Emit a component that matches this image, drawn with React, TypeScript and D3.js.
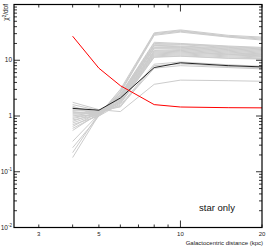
import { useEffect, useRef } from "react";
import * as d3 from "d3";

// radial bins (kpc)
const distances = [4, 5, 6, 8, 10, 15, 20];

// red curve and black reference curve
const redValues = [27, 7.2, 3.5, 1.6, 1.45, 1.41, 1.4];
const blackValues = [1.37, 1.27, 2.1, 7.4, 9.0, 8.0, 7.6];

// grey curves (one row per model)
const greyValues = [
  [0.18, 1.05, 3.0, 31, 35, 28, 26],
  [0.22, 1.1, 2.8, 30, 34, 27, 25],
  [0.27, 1.0, 2.7, 29, 33, 26.5, 24],
  [0.35, 1.08, 2.6, 28, 32, 26, 23],
  [0.55, 1.12, 2.45, 21, 20, 18, 17],
  [0.6, 1.05, 2.4, 20, 19.5, 17.5, 16.5],
  [0.65, 1.15, 2.35, 19, 19, 17, 16],
  [0.7, 1.0, 2.3, 18.5, 18, 16.5, 15.5],
  [0.75, 1.1, 2.25, 18, 17.5, 16, 15],
  [0.8, 1.2, 2.2, 17, 17, 15.5, 14.5],
  [0.85, 1.05, 2.15, 16.5, 16.5, 15, 14],
  [0.9, 1.15, 2.1, 16, 16, 14.5, 13.5],
  [0.95, 1.1, 2.05, 15, 15.5, 14, 13],
  [1.0, 1.2, 2.0, 14.5, 15, 13.5, 12.8],
  [1.05, 1.0, 1.95, 14, 14.5, 13, 12.5],
  [1.1, 1.1, 1.9, 13.5, 14, 12.8, 12],
  [1.15, 1.15, 1.85, 13, 13.5, 12.5, 11.8],
  [1.2, 1.05, 1.8, 12.5, 13, 12, 11.5],
  [1.3, 1.2, 1.75, 12, 12.5, 11.5, 11],
  [1.4, 1.1, 1.7, 11.5, 12, 11, 10.7],
  [1.5, 1.0, 1.65, 11.3, 11.8, 10.8, 10.5],
  [1.25, 1.2, 1.55, 8.5, 9.3, 8.3, 7.8],
  [1.45, 1.15, 1.5, 7.2, 8.0, 7.4, 7.0],
  [1.6, 1.25, 1.45, 8.0, 8.6, 7.7, 7.3],
  [1.76, 1.3, 1.2, 3.7, 4.4, 4.3, 4.2],
];

// axis ticks
const xTicks = [3, 4, 5, 6, 7, 8, 9, 10, 20];
const xLabels = [3, 5, 10, 20];
const yDecades = [0.01, 0.1, 1, 10, 100];
const yLabels = [
  { v: 0.01, base: "10", exp: "-2" },
  { v: 0.1, base: "10", exp: "-1" },
  { v: 1, base: "1", exp: "" },
  { v: 10, base: "10", exp: "" },
];

export default function App() {
  const svgRef = useRef<SVGSVGElement>(null);

  useEffect(() => {
    const width = 266;
    const height = 249;
    const left = 14;
    const right = 262;
    const top = 4.5;
    const bottom = 227.5;
    const font = "'Liberation Sans Narrow', 'Liberation Sans', Arial, sans-serif";

    const svg = d3.select(svgRef.current);
    svg.selectAll("*").remove();
    svg.attr("width", width).attr("height", height);

    const x = d3.scaleLog().domain([2.43, 20]).range([left, right]);
    const y = d3.scaleLog().domain([0.01, 100]).range([bottom, top]);

    svg
      .append("rect")
      .attr("width", width)
      .attr("height", height)
      .attr("fill", "white");

    const line = d3
      .line<number>()
      .x((_, i) => x(distances[i]))
      .y((d) => y(d));

    const plot = svg.append("g");

    plot
      .selectAll(".grey")
      .data(greyValues)
      .join("path")
      .attr("class", "grey")
      .attr("d", line)
      .attr("fill", "none")
      .attr("stroke", "#cccccc")
      .attr("stroke-width", 1);

    plot
      .append("path")
      .attr("d", line(blackValues))
      .attr("fill", "none")
      .attr("stroke", "#222")
      .attr("stroke-width", 1);

    plot
      .append("path")
      .attr("d", line(redValues))
      .attr("fill", "none")
      .attr("stroke", "#ff0000")
      .attr("stroke-width", 1);

    // frame
    svg
      .append("rect")
      .attr("x", left)
      .attr("y", top)
      .attr("width", right - left)
      .attr("height", bottom - top)
      .attr("fill", "none")
      .attr("stroke", "black")
      .attr("stroke-width", 1.2);

    // x ticks, bottom and top
    const xt = svg.append("g").attr("stroke", "black").attr("stroke-width", 0.8);
    xTicks.forEach((t) => {
      const len = t === 10 ? 7 : 3;
      xt.append("line")
        .attr("x1", x(t))
        .attr("x2", x(t))
        .attr("y1", bottom)
        .attr("y2", bottom - len);
      xt.append("line")
        .attr("x1", x(t))
        .attr("x2", x(t))
        .attr("y1", top)
        .attr("y2", top + len);
    });

    // y ticks, left and right
    const yt = svg.append("g").attr("stroke", "black").attr("stroke-width", 0.8);
    yDecades.forEach((dec) => {
      d3.range(1, 10).forEach((m) => {
        const v = dec * m;
        if (v > 100) return;
        const len = m === 1 ? 6 : 3;
        yt.append("line")
          .attr("x1", left)
          .attr("x2", left + len)
          .attr("y1", y(v))
          .attr("y2", y(v));
        yt.append("line")
          .attr("x1", right)
          .attr("x2", right - len)
          .attr("y1", y(v))
          .attr("y2", y(v));
      });
    });

    // tick labels
    svg
      .append("g")
      .selectAll("text")
      .data(xLabels)
      .join("text")
      .attr("x", (d) => x(d))
      .attr("y", 235.5)
      .attr("text-anchor", "middle")
      .attr("font-family", font)
      .attr("font-size", 6)
      .attr("fill", "#222")
      .text((d) => d);

    const yl = svg
      .append("g")
      .selectAll("text")
      .data(yLabels)
      .join("text")
      .attr("x", 12)
      .attr("y", (d) => y(d.v) + 2.2)
      .attr("text-anchor", "end")
      .attr("font-family", font)
      .attr("font-size", 6.5)
      .attr("fill", "#222");
    yl.append("tspan").text((d) => d.base);
    yl.append("tspan")
      .attr("dy", -3)
      .attr("font-size", 4.5)
      .text((d) => d.exp);

    // axis titles
    svg
      .append("text")
      .attr("x", right + 1)
      .attr("y", 244.5)
      .attr("text-anchor", "end")
      .attr("font-family", font)
      .attr("font-size", 6)
      .attr("fill", "#222")
      .text("Galactocentric distance (kpc)");

    const yTitle = svg
      .append("text")
      .attr("transform", `translate(7.5, 4) rotate(-90)`)
      .attr("text-anchor", "end")
      .attr("font-family", font)
      .attr("font-size", 6.5)
      .attr("fill", "#222");
    yTitle.append("tspan").text("χ");
    yTitle.append("tspan").attr("dy", -2).attr("font-size", 4.5).text("2");
    yTitle.append("tspan").attr("dy", 2).text("/dof");

    svg
      .append("text")
      .attr("x", 217)
      .attr("y", 211)
      .attr("text-anchor", "middle")
      .attr("font-family", font)
      .attr("font-size", 9.5)
      .attr("fill", "#111")
      .text("star only");
  }, []);

  return (
    <svg
      ref={svgRef}
      style={{ position: "absolute", left: 0, top: 0, display: "block" }}
    ></svg>
  );
}
